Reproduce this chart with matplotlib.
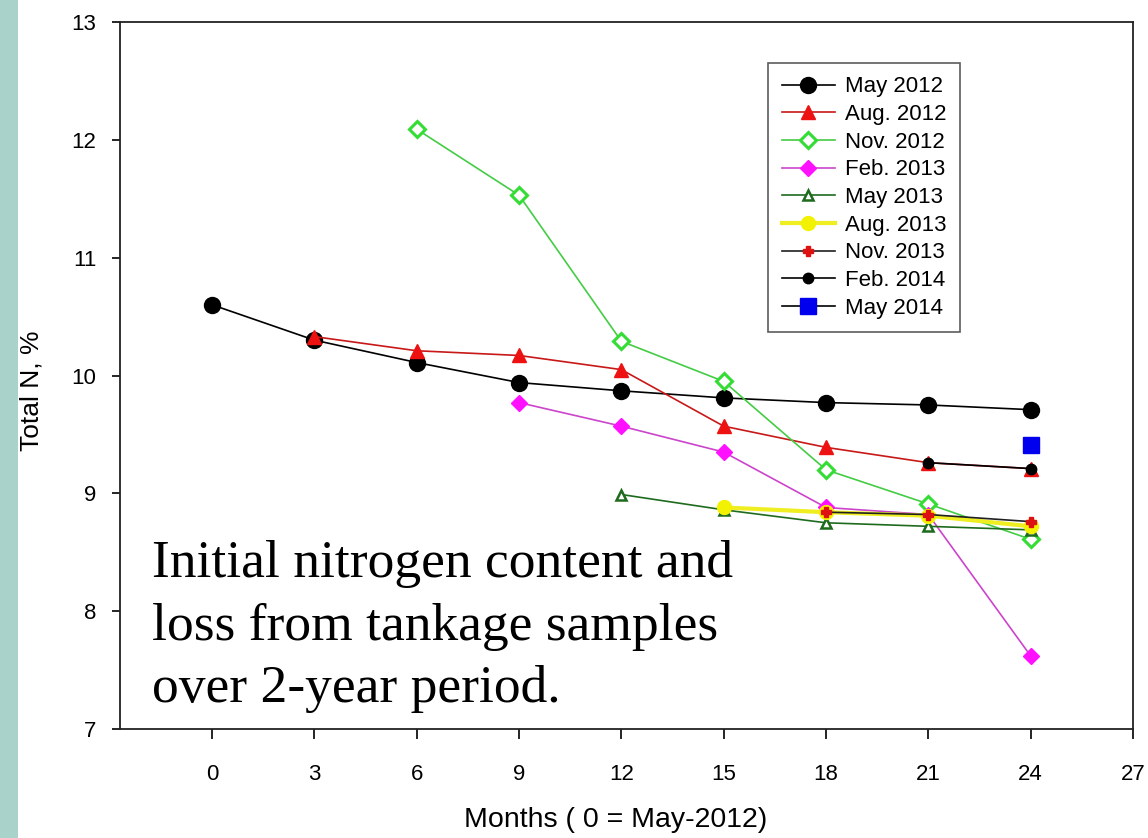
import matplotlib
matplotlib.use("Agg")
import matplotlib.pyplot as plt
from matplotlib.patches import Rectangle

plt.rcParams['font.family'] = ['Liberation Sans', 'DejaVu Sans']

# ---- data ----
months_may12 = [0, 3, 6, 9, 12, 15, 18, 21, 24]
may12 = [10.60, 10.30, 10.11, 9.94, 9.87, 9.81, 9.77, 9.75, 9.71]

months_aug12 = [3, 6, 9, 12, 15, 18, 21, 24]
aug12 = [10.33, 10.21, 10.17, 10.05, 9.57, 9.39, 9.26, 9.21]

months_nov12 = [6, 9, 12, 15, 18, 21, 24]
nov12 = [12.09, 11.53, 10.29, 9.95, 9.20, 8.91, 8.61]

months_feb13 = [9, 12, 15, 18, 21, 24]
feb13 = [9.77, 9.57, 9.35, 8.88, 8.82, 7.62]

months_may13 = [12, 15, 18, 21, 24]
may13 = [8.99, 8.86, 8.75, 8.72, 8.69]

months_aug13 = [15, 18, 21, 24]
aug13 = [8.88, 8.84, 8.81, 8.72]

months_nov13 = [18, 21, 24]
nov13 = [8.84, 8.82, 8.76]

months_feb14 = [21, 24]
feb14 = [9.26, 9.21]

months_may14 = [24]
may14 = [9.41]

labels = ["May 2012", "Aug. 2012", "Nov. 2012", "Feb. 2013", "May 2013",
          "Aug. 2013", "Nov. 2013", "Feb. 2014", "May 2014"]
x_ticks = [0, 3, 6, 9, 12, 15, 18, 21, 24, 27]
y_ticks = [7, 8, 9, 10, 11, 12, 13]

fig = plt.figure(figsize=(11.48, 8.38), dpi=100)
fig.patch.set_facecolor('white')
# decorative teal strip on the left
fig.patches.append(Rectangle((0, 0), 18 / 1148, 1, transform=fig.transFigure,
                             facecolor='#a9d2ca', edgecolor='none'))

ax = fig.add_axes([120 / 1148, 1 - 729 / 838, (1133 - 120) / 1148, (729 - 22) / 838])

ax.plot(months_may12, may12, '-', color='black', lw=1.2, marker='o', ms=11.5,
        mfc='black', mec='black', label=labels[0], zorder=3)
ax.plot(months_aug12, aug12, '-', color='#c81818', lw=1.2, marker='^', ms=10,
        mfc='#ee1111', mec='#ee1111', label=labels[1], zorder=3)
ax.plot(months_nov12, nov12, '-', color='#44cc44', lw=1.2, marker='D', ms=8,
        mfc='white', mec='#33dd33', mew=2.2, label=labels[2], zorder=3)
ax.plot(months_feb13, feb13, '-', color='#cc44cc', lw=1.2, marker='D', ms=8.5,
        mfc='#ff11ff', mec='#ff11ff', label=labels[3], zorder=3)
ax.plot(months_may13, may13, '-', color='#1e6b1e', lw=1.2, marker='^', ms=7,
        mfc='white', mec='#1e6b1e', mew=1.8, label=labels[4], zorder=3)
ax.plot(months_aug13, aug13, '-', color='#eeee22', lw=3, marker='o', ms=10,
        mfc='#f2f200', mec='#f2f200', label=labels[5], zorder=3)
ax.plot(months_nov13, nov13, '-', color='#202020', lw=1.2, marker='P', ms=7,
        mfc='#dd1111', mec='#dd1111', label=labels[6], zorder=3)
ax.plot(months_feb14, feb14, '-', color='black', lw=1.2, marker='o', ms=7.5,
        mfc='black', mec='black', label=labels[7], zorder=3)
ax.plot(months_may14, may14, '-', color='black', lw=1.2, marker='s', ms=11,
        mfc='#0000ee', mec='#0000ee', label=labels[8], zorder=3)

ax.set_xlim(-2.7, 27)
ax.set_ylim(7, 13)
ax.set_xticks(x_ticks)
ax.set_yticks(y_ticks)
ax.tick_params(direction='out', length=7, width=1.2, labelsize=16,
               colors='black')
ax.tick_params(axis='x', pad=18)
ax.tick_params(axis='y', length=6, pad=11)
for s in ax.spines.values():
    s.set_linewidth(1.3)
    s.set_color('#222222')

ax.set_xlabel("Months ( 0 = May-2012)", fontsize=20.5)
ax.xaxis.set_label_coords((616 - 120) / 1013, -(807 - 729) / 707)
ax.set_ylabel("Total N, %", fontsize=19)
ax.yaxis.set_label_coords(-(120 - 44) / 1013, (729 - 391) / 707)

leg = ax.legend(loc='upper left', bbox_to_anchor=(0.64, 0.942), fontsize=16,
                frameon=True, fancybox=False, edgecolor='#333333',
                handlelength=2.4, labelspacing=0.3, borderpad=0.6,
                handletextpad=0.45, borderaxespad=0)
leg.get_frame().set_linewidth(1.2)

ax.text((152 - 120) / 1013, (729 - 702) / 707,
        "Initial nitrogen content and\nloss from tankage samples\nover 2-year period.",
        transform=ax.transAxes, fontsize=38.5, family='Liberation Serif',
        ha='left', va='baseline', linespacing=1.39, color='black')

fig.savefig("out.png", dpi=100, facecolor='white')
